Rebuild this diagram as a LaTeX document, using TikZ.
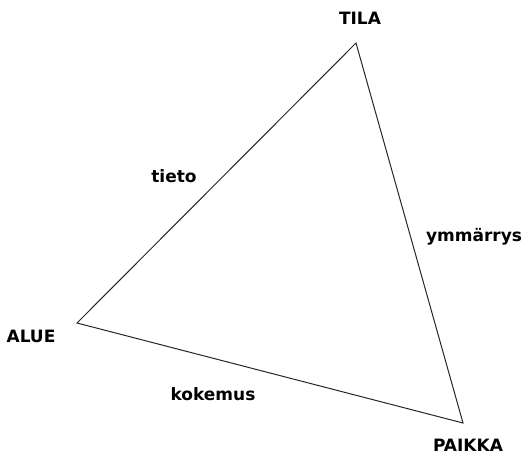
\documentclass[tikz,border=0pt]{standalone}
\usepackage{fontspec}
\setmainfont{DejaVu Sans}
\begin{document}
\begin{tikzpicture}[x=1pt,y=-1pt,
  lbl/.style={font=\bfseries\fontsize{17}{20}\selectfont, text=black, inner sep=0pt},
  edge/.style={draw=black!85, line width=1pt, line join=miter}]
\useasboundingbox (0,0) rectangle (527,455);
\coordinate (tila) at (356,43);
\coordinate (alue) at (77,323);
\coordinate (paikka) at (463,423);
\draw[edge] (tila) -- (alue) -- (paikka) -- cycle;
\node[lbl] (ltila) at (360,18) {TILA};
\node[lbl] (lalue) at (31,336) {ALUE};
\node[lbl] (lpaikka) at (468,445) {PAIKKA};
\node[lbl] (ltieto) at (174,176) {tieto};
\node[lbl] (lymm) at (474,237) {ymmärrys};
\node[lbl] (lkok) at (213,394) {kokemus};
\end{tikzpicture}
\end{document}
